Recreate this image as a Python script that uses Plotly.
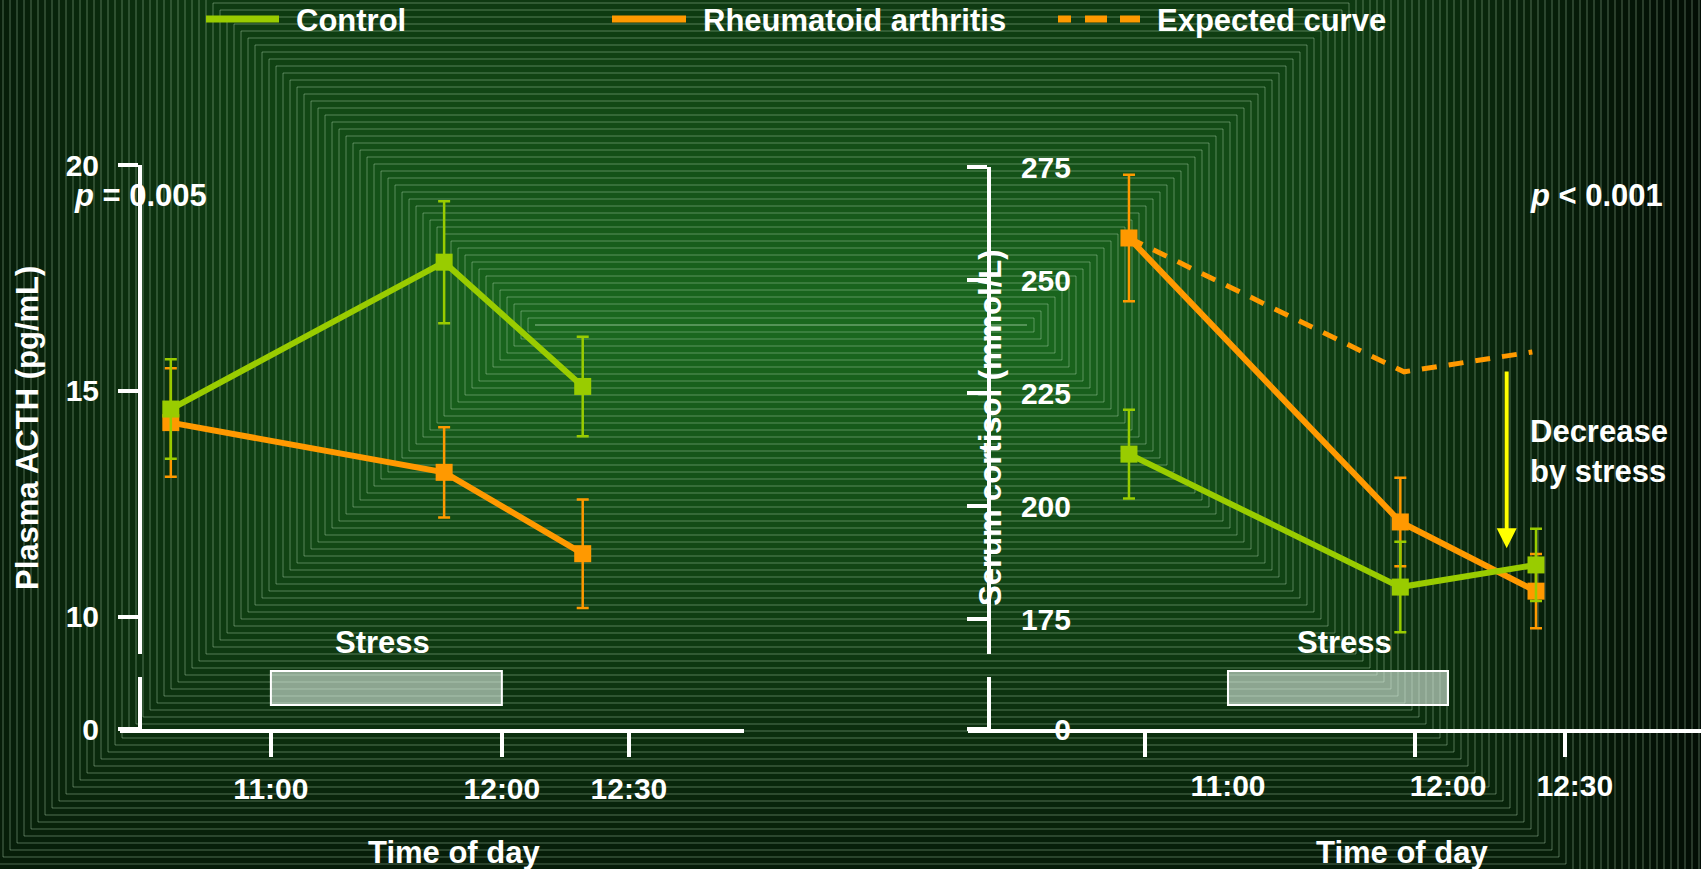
import plotly.graph_objects as go

# ---------------- data ----------------
time_tick_text = ["11:00", "12:00", "12:30"]

# left panel: plasma ACTH (minutes relative to 11:00)
acth_time = [-26, 45, 81]
acth_control = [14.6, 17.85, 15.1]
acth_control_err = [1.1, 1.35, 1.1]
acth_ra = [14.3, 13.2, 11.4]
acth_ra_err = [1.2, 1.0, 1.2]
acth_tick_pos = [0, 60, 93]
acth_yticks = [10, 15, 20]

# right panel: serum cortisol
cortisol_time = [-27, 47, 84]
cortisol_control = [211.5, 182.1, 187.0]
cortisol_control_err = [9.8, 10.0, 8.0]
cortisol_ra = [259.3, 196.5, 181.2]
cortisol_ra_err = [14.0, 9.8, 8.2]
expected_time = [-27, 48, 83]
expected_ra = [259.3, 229.7, 234.1]
cortisol_label_pos = [0, 60, 94.6]
cortisol_tick_marks = [-22.6, 51, 91.9]
cortisol_yticks = [175, 200, 225, 250, 275]

stress_window = [0, 60]
arrow_time = 76
arrow_from, arrow_to = 230.1, 190.7

# ---------------- style ----------------
W, H = 1701, 869
GREEN = "#99CC00"
ORANGE = "#FF9900"
WHITE = "#FFFFFF"
FONT = "Liberation Sans, Arial, sans-serif"


def px(x):
    return x / W


def py(y):
    return 1 - y / H


fig = go.Figure()

# ---------------- background: nested-rectangle gradient ----------------
shapes = []
cx0, cx1, cy = 535, 1027, 325
center = (27, 106, 31)
edge = (2, 10, 4)
dmax = 720
step = 7
d = 686
while d >= 0:
    t = max(0.0, 1 - d / dmax) ** 1.15
    col = tuple(int(edge[i] + (center[i] - edge[i]) * t) for i in range(3))
    shapes.append(dict(
        type="rect", xref="paper", yref="paper", layer="below",
        x0=px(cx0 - d), x1=px(cx1 + d), y0=py(cy + d), y1=py(cy - d),
        fillcolor="rgb(%d,%d,%d)" % col,
        line=dict(color="rgba(190,225,190,0.40)", width=1),
    ))
    d -= step

# stress boxes
box_y0, box_y1 = py(705), py(671)
for xr in ("x", "x3"):
    shapes.append(dict(type="rect", xref=xr, yref="paper", layer="above",
                       x0=stress_window[0], x1=stress_window[1], y0=box_y0, y1=box_y1,
                       fillcolor="rgba(225,242,230,0.60)", line=dict(color=WHITE, width=2)))

# manual legend lines
leg_y = py(19)
shapes.append(dict(type="line", xref="paper", yref="paper", x0=px(206), x1=px(279), y0=leg_y, y1=leg_y,
                   line=dict(color=GREEN, width=7)))
shapes.append(dict(type="line", xref="paper", yref="paper", x0=px(612), x1=px(686), y0=leg_y, y1=leg_y,
                   line=dict(color=ORANGE, width=7)))
shapes.append(dict(type="line", xref="paper", yref="paper", x0=px(1058), x1=px(1140), y0=leg_y, y1=leg_y,
                   line=dict(color=ORANGE, width=7, dash="13px,14px,22px,13px,22px")))

# ---------------- traces ----------------
def err(arr, color):
    return dict(type="data", array=arr, visible=True, color=color, thickness=2.5, width=6)

marker = dict(symbol="square", size=17, line=dict(width=0))

fig.add_trace(go.Scatter(x=acth_time, y=acth_ra, mode="lines+markers", name="Rheumatoid arthritis",
                         line=dict(color=ORANGE, width=6), marker=dict(color=ORANGE, **marker),
                         error_y=err(acth_ra_err, ORANGE), xaxis="x", yaxis="y", showlegend=False,
                         cliponaxis=False))
fig.add_trace(go.Scatter(x=acth_time, y=acth_control, mode="lines+markers", name="Control",
                         line=dict(color=GREEN, width=6), marker=dict(color=GREEN, **marker),
                         error_y=err(acth_control_err, GREEN), xaxis="x", yaxis="y", showlegend=False,
                         cliponaxis=False))

fig.add_trace(go.Scatter(x=expected_time, y=expected_ra, mode="lines", name="Expected curve",
                         line=dict(color=ORANGE, width=5, dash="15px,12px"),
                         xaxis="x3", yaxis="y3", showlegend=False, cliponaxis=False))
fig.add_trace(go.Scatter(x=cortisol_time, y=cortisol_ra, mode="lines+markers", name="Rheumatoid arthritis",
                         line=dict(color=ORANGE, width=6), marker=dict(color=ORANGE, **marker),
                         error_y=err(cortisol_ra_err, ORANGE), xaxis="x3", yaxis="y3", showlegend=False,
                         cliponaxis=False))
fig.add_trace(go.Scatter(x=cortisol_time, y=cortisol_control, mode="lines+markers", name="Control",
                         line=dict(color=GREEN, width=6), marker=dict(color=GREEN, **marker),
                         error_y=err(cortisol_control_err, GREEN), xaxis="x3", yaxis="y3", showlegend=False,
                         cliponaxis=False))
# invisible helpers so the broken-axis pieces and label-only axes are drawn
for xa, ya in (("x", "y2"), ("x4", "y4"), ("x3", "y5"), ("x3", "y6")):
    fig.add_trace(go.Scatter(x=[None], y=[None], xaxis=xa, yaxis=ya, showlegend=False, hoverinfo="skip"))

# ---------------- axes ----------------
tick_font = dict(family=FONT, size=30, color=WHITE, weight="bold")
common = dict(showgrid=False, zeroline=False, linecolor=WHITE, linewidth=4, tickcolor=WHITE,
              tickwidth=4, tickfont=tick_font, automargin=False)

upper_dom = [py(654), py(165)]
upper_dom_r = [py(654), py(167)]
lower_dom = [py(729), py(677)]

fig.update_layout(
    xaxis=dict(domain=[px(120), px(744)], range=[-39.2, 122.9], anchor="y2", showline=True,
               ticks="outside", ticklen=24, tickvals=acth_tick_pos, ticktext=time_tick_text,
               ticklabelstandoff=6, **common),
    yaxis=dict(domain=upper_dom, range=[9.18, 20], anchor="free", position=px(140), showline=True,
               ticks="outside", ticklen=20, tickvals=acth_yticks, ticklabelstandoff=13, **common),
    yaxis2=dict(domain=lower_dom, range=[0, 1], anchor="free", position=px(140), showline=True,
                ticks="outside", ticklen=20, tickvals=[0], ticktext=["0"], ticklabelstandoff=13, **common),
    xaxis3=dict(domain=[px(968), 1.0], range=[-70.9, 129.0], anchor="y4", showline=True,
                ticks="outside", ticklen=24, tickvals=cortisol_tick_marks, showticklabels=False, **common),
    xaxis4=dict(domain=[px(968), 1.0], range=[-70.9, 129.0], anchor="y4", overlaying="x3", showline=False,
                ticks="outside", ticklen=24, tickcolor="rgba(0,0,0,0)", tickvals=cortisol_label_pos,
                ticktext=time_tick_text, ticklabelstandoff=6,
                **{k: v for k, v in common.items() if k not in ("tickcolor",)}),
    yaxis3=dict(domain=upper_dom_r, range=[167.3, 275], anchor="free", position=px(989), showline=True,
                ticks="outside", ticklen=20, tickvals=cortisol_yticks, showticklabels=False, **common),
    yaxis4=dict(domain=lower_dom, range=[0, 1], anchor="free", position=px(989), showline=True,
                ticks="outside", ticklen=20, tickvals=[0], showticklabels=False, **common),
    yaxis5=dict(range=[167.3, 275], overlaying="y3", anchor="free", position=px(1071), side="left",
                showline=False, ticks="", tickvals=cortisol_yticks, showgrid=False, zeroline=False,
                tickfont=tick_font, automargin=False),
    yaxis6=dict(range=[0, 1], overlaying="y4", anchor="free", position=px(1071), side="left",
                showline=False, ticks="", tickvals=[0], ticktext=["0"], showgrid=False, zeroline=False,
                tickfont=tick_font, automargin=False),
)

# ---------------- annotations ----------------
big = dict(family=FONT, size=31, color=WHITE, weight="bold")
ann = []


def text(x, y, s, xanchor="center", angle=0):
    ann.append(dict(x=px(x), y=py(y), xref="paper", yref="paper", text=s, showarrow=False,
                    xanchor=xanchor, yanchor="middle", textangle=angle, font=big))


text(294, 20, "Control", "left")
text(701, 20, "Rheumatoid arthritis", "left")
text(1155, 20, "Expected curve", "left")
text(27, 428, "Plasma ACTH (pg/mL)", angle=-90)
text(990, 428, "Serum cortisol (mmol/L)", angle=-90)
text(454, 852, "Time of day")
text(1402, 852, "Time of day")
text(382, 642, "Stress")
text(1344, 642, "Stress")
text(72, 195, "<i>p</i> = 0.005", "left")
text(1528, 195, "<i>p</i> &lt; 0.001", "left")
ann.append(dict(x=px(1528), y=py(451), xref="paper", yref="paper", text="Decrease<br>by stress",
                showarrow=False, xanchor="left", yanchor="middle", align="left", font=big))
ann.append(dict(x=arrow_time, y=arrow_to, ax=arrow_time, ay=arrow_from, xref="x3", yref="y3",
                axref="x3", ayref="y3", text="", showarrow=True, arrowhead=2, arrowsize=1,
                arrowwidth=4, arrowcolor="#FFFF00", standoff=0))

fig.update_layout(
    width=W, height=H, margin=dict(l=0, r=0, t=0, b=0, pad=0, autoexpand=False),
    paper_bgcolor="#06180a", plot_bgcolor="rgba(0,0,0,0)",
    shapes=shapes, annotations=ann, showlegend=False,
    font=dict(family=FONT, color=WHITE),
)

fig.write_html("out.html")
